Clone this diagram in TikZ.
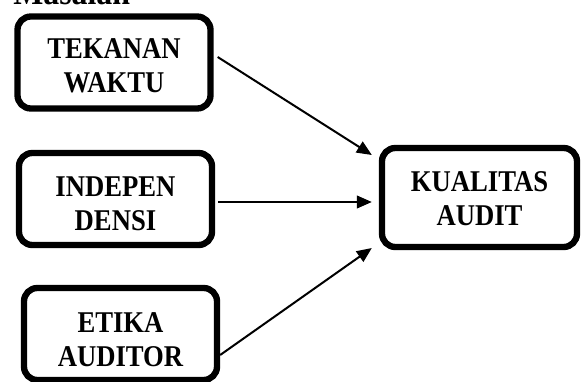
\documentclass[tikz,border=0pt]{standalone}
\usepackage{fontspec}
\setmainfont{Liberation Serif}[FakeStretch=0.885]
\usetikzlibrary{arrows.meta,calc}

\tikzset{
  varbox/.style={draw, line width=4.75pt, rounded corners=10pt, align=center,
    minimum width=144.75pt, minimum height=69pt, inner sep=0.75pt,
    font=\fontsize{22.6}{25.5}\selectfont\bfseries},
  arrline/.style={line width=1.5pt, -{Triangle[length=11.25pt,width=9.5pt]}}
}

\begin{document}
\begin{tikzpicture}[x=0.75pt,y=0.75pt,yscale=-1,xscale=1]
\useasboundingbox (0,0) rectangle (582,382); %set diagram size 582 x 382

% Text Node
\node (judul) [anchor=base west, inner sep=0pt, font=\fontsize{27}{30}\selectfont\bfseries] at (13,4) {Masalah};

%Shape: Rounded Rectangle
\node (tekanan) [varbox, text height=45.75pt] at (114,62.5) {TEKANAN\\WAKTU};
%Shape: Rounded Rectangle
\node (independensi) [varbox, text height=46.95pt] at (115.5,199) {INDEPEN\\DENSI};
%Shape: Rounded Rectangle
\node (etika) [varbox, text height=49.5pt] at (120.5,334) {ETIKA\\AUDITOR};
%Shape: Rounded Rectangle
\node (kualitas) [varbox, text height=41.7pt, minimum width=146.25pt, minimum height=74.25pt] at (479.5,197.5) {KUALITAS\\AUDIT};

%Straight Lines
\draw [arrline] ($(tekanan.east)+(4,-5.5)$) -- ($(kualitas.west)+(-7,-42.5)$);
%Straight Lines
\draw [arrline] ($(independensi.east)+(3,3)$) -- ($(kualitas.west)+(-7,4.5)$);
%Straight Lines
\draw [arrline] ($(etika.east)+(0,21)$) -- ($(kualitas.west)+(-7,50.5)$);

\end{tikzpicture}
\end{document}
